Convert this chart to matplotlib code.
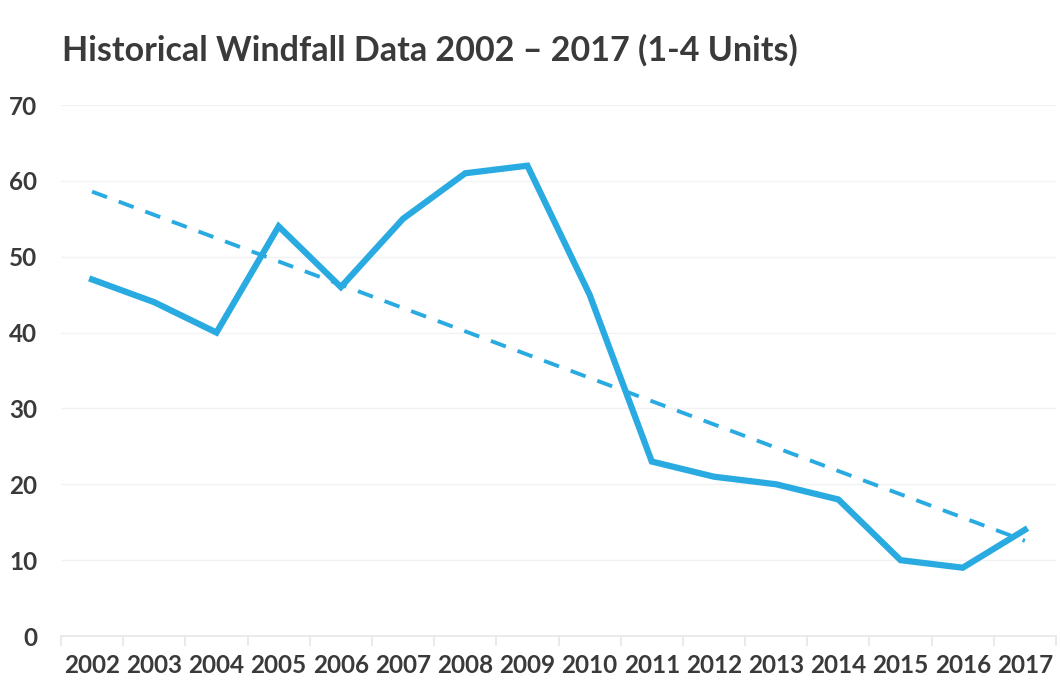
import matplotlib.pyplot as plt
import numpy as np

years = ['2002', '2003', '2004', '2005', '2006', '2007', '2008', '2009',
         '2010', '2011', '2012', '2013', '2014', '2015', '2016', '2017']
windfall = [47, 44, 40, 54, 46, 55, 61, 62, 45, 23, 21, 20, 18, 10, 9, 14]
y_ticks = [0, 10, 20, 30, 40, 50, 60, 70]

blue = '#29abe2'
text_col = '#3a3a3a'
plt.rcParams['font.family'] = ['Lato', 'DejaVu Sans']

fig = plt.figure(figsize=(10.6, 6.82), dpi=100)
ax = fig.add_axes([61/1060, 46/682, 995/1060, 531/682])

x = np.arange(len(years))
ax.plot(x, windfall, color=blue, lw=4.5, solid_joinstyle='miter', zorder=3)

# linear trendline, like excel's
k, b = np.polyfit(x, windfall, 1)
ax.plot(x, k * x + b, color=blue, lw=2.8, dashes=(4.1, 3.2), zorder=2)

ax.set_xlim(-0.5, len(years) - 0.5)
ax.set_ylim(0, 70)
ax.set_yticks(y_ticks)
ax.set_xticks(x)
ax.set_xticklabels(years)
ax.set_xticks(np.arange(len(years) + 1) - 0.5, minor=True)

for v in y_ticks[1:]:
    ax.axhline(v, color='#f2f2f2', lw=1, zorder=0)

for s in ['top', 'right', 'left']:
    ax.spines[s].set_visible(False)
ax.spines['bottom'].set_color('#e6e6e6')
ax.spines['bottom'].set_linewidth(1.2)

ax.tick_params(axis='x', which='major', length=0, pad=13, labelsize=17.5,
               labelcolor=text_col)
ax.tick_params(axis='x', which='minor', length=7, color='#e6e6e6', width=1.2)
ax.tick_params(axis='y', length=0, pad=17, labelsize=17.5, labelcolor=text_col)
for lbl in ax.get_xticklabels() + ax.get_yticklabels():
    lbl.set_fontweight('bold')

fig.text(62/1060, 1 - 61/682, 'Historical Windfall Data 2002 \u2013 2017 (1-4 Units)',
         fontsize=24.5, fontweight='bold', color=text_col, ha='left', va='baseline')

fig.savefig('out.png', dpi=100)
